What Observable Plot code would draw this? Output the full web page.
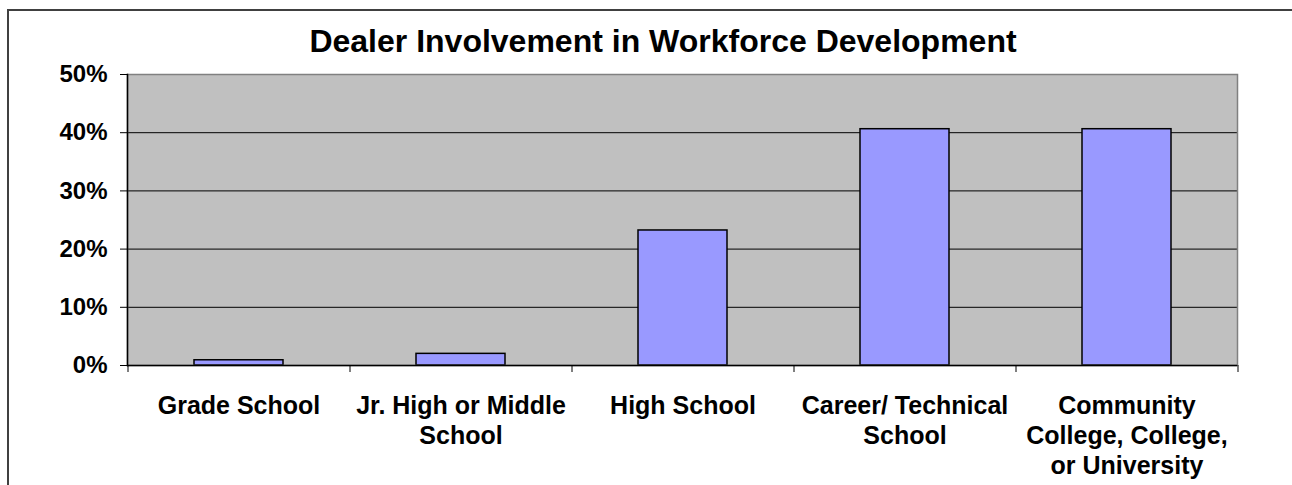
<!DOCTYPE html>
<html>
<head>
<meta charset="utf-8">
<script src="https://cdn.jsdelivr.net/npm/d3@7"></script>
<script src="https://cdn.jsdelivr.net/npm/@observablehq/plot@0.6"></script>
<style>
  html, body { margin: 0; padding: 0; background: #fff; overflow: hidden; width: 1292px; height: 485px; }
  #wrap { position: relative; width: 1292px; height: 485px; font-family: Arial, "Liberation Sans", sans-serif; }
  #border { position: absolute; left: 7px; top: 9px; width: 1400px; height: 600px; border: 2px solid #404040; }
  #title { position: absolute; left: 0; top: 25px; width: 1326px; text-align: center; font-size: 32px; line-height: 32px; font-weight: bold; color: #000; white-space: nowrap; }
  #chart { position: absolute; left: 0; top: 0; }
</style>
</head>
<body>
<div id="wrap">
  <div id="border"></div>
  <div id="chart"></div>
  <div id="title">Dealer Involvement in Workforce Development</div>
</div>
<script>
const categories = ["Grade School", "Jr. High or Middle School", "High School", "Career/ Technical School", "Community College, College, or University"];
const values = [0.9, 2.0, 23.2, 40.6, 40.6];
const tickLabels = ["Grade School", "Jr. High or Middle\nSchool", "High School", "Career/ Technical\nSchool", "Community\nCollege, College,\nor University"];
const yTicks = [0, 10, 20, 30, 40, 50];

const W = 1292, H = 485, ML = 127, MR = 55, MT = 74, MB = 120;
const step = (W - ML - MR) / categories.length;
const rows = categories.map((c, i) => ({category: c, value: values[i]}));

const chart = Plot.plot({
  width: W, height: H,
  marginLeft: ML, marginRight: MR, marginTop: MT, marginBottom: MB,
  style: {fontFamily: 'Arial, "Liberation Sans", sans-serif', fontWeight: "bold", fontSize: "24px", color: "#000", background: "transparent", overflow: "visible"},
  x: {domain: categories, paddingInner: 0.6, paddingOuter: 0.3, align: 0.5, label: null},
  y: {domain: [0, 50], label: null},
  marks: [
    Plot.frame({fill: "#C0C0C0", stroke: null}),
    Plot.gridY({ticks: yTicks.filter(t => t > 0 && t < 50), stroke: "#000", strokeOpacity: 1, strokeWidth: 1}),
    Plot.barY(rows, {x: "category", y: "value", fill: "#9999FF", stroke: "#000", strokeWidth: 1.5}),
    Plot.frame({stroke: "#808080", strokeWidth: 1.5}),
    Plot.ruleY([0], {stroke: "#000", strokeWidth: 1.5}),
    Plot.frame({anchor: "left", stroke: "#000", strokeWidth: 1.5}),
    Plot.axisY({ticks: yTicks, tickFormat: d => d + "%", tickSize: 7, tickPadding: 13, stroke: "#000", fontSize: 24, fontWeight: "bold", label: null}),
    Plot.axisX({ticks: categories, tickSize: 7, tickFormat: () => "", dx: -step / 2, stroke: "#000", label: null}),
    Plot.axisX({ticks: [categories[categories.length - 1]], tickSize: 7, tickFormat: () => "", dx: step / 2, stroke: "#000", label: null}),
    Plot.axisX({ticks: categories, tickSize: 0, tickPadding: 27, tickFormat: d => tickLabels[categories.indexOf(d)], lineHeight: 1.2, fontSize: 25, fontWeight: "bold", label: null})
  ]
});
document.getElementById("chart").appendChild(chart);
</script>
</body>
</html>
